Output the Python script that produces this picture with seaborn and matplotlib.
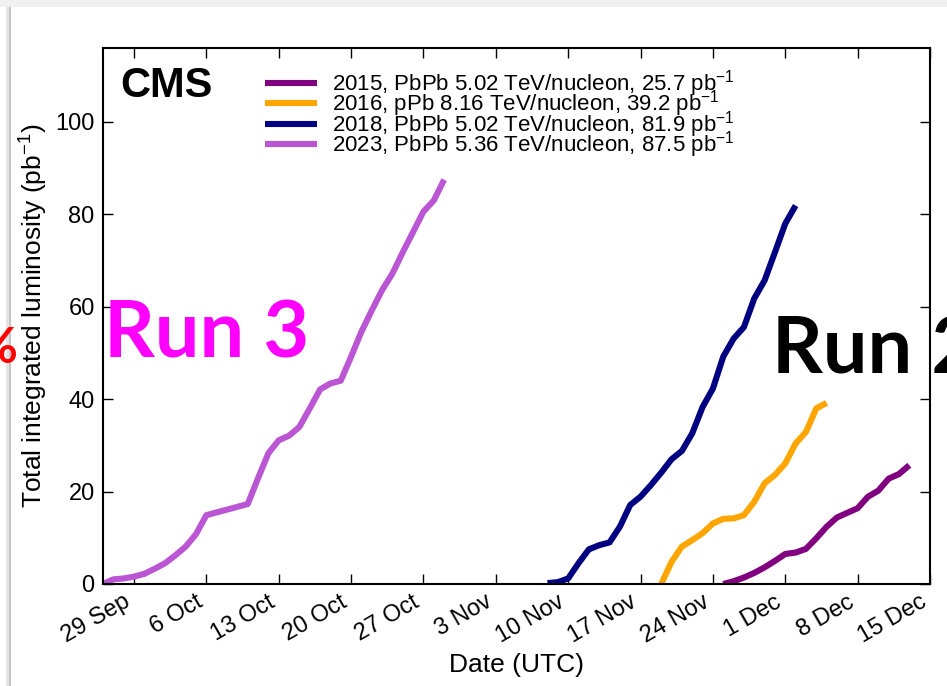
import matplotlib
matplotlib.use("Agg")
import matplotlib.pyplot as plt
from matplotlib.patches import Rectangle
import pandas as pd
import seaborn as sns

# ---- data: cumulative delivered luminosity per day (pb^-1) ----
AXIS_YEAR = 2023  # common calendar used to overlay the heavy-ion runs

labels = [
    "2015, PbPb 5.02 TeV/nucleon, 25.7 pb$^{-1}$",
    "2016, pPb 8.16 TeV/nucleon, 39.2 pb$^{-1}$",
    "2018, PbPb 5.02 TeV/nucleon, 81.9 pb$^{-1}$",
    "2023, PbPb 5.36 TeV/nucleon, 87.5 pb$^{-1}$",
]
colors = ["#800080", "#FFA500", "#000080", "#BA55D3"]
start_days = ["11-25", "11-19", "11-08", "09-26"]

lumi_2015 = [0.0, 0.6, 1.4, 2.4, 3.6, 5.0, 6.5, 6.8, 7.6, 9.9, 12.4, 14.4,
             15.4, 16.4, 18.9, 20.2, 22.8, 23.8, 25.7]
lumi_2016 = [0.0, 4.8, 8.1, 9.5, 11.0, 13.1, 14.1, 14.2, 14.9, 17.8, 21.8,
             23.6, 26.1, 30.4, 32.9, 38.0, 39.2]
lumi_2018 = [0.2, 0.4, 1.2, 4.5, 7.5, 8.4, 9.0, 12.4, 17.1, 18.9, 21.4, 24.1,
             27.0, 28.8, 32.6, 38.3, 42.3, 49.2, 53.1, 55.6, 61.8, 65.7,
             71.8, 78.0, 81.9]
lumi_2023 = [0.0, 1.0, 1.2, 1.6, 2.2, 3.3, 4.5, 6.2, 8.1, 10.8, 14.9, 15.5,
             16.1, 16.7, 17.3, 22.9, 28.3, 31.1, 32.1, 34.0, 38.0, 42.1,
             43.4, 44.0, 49.2, 54.6, 59.2, 63.6, 67.2, 71.8, 76.2, 80.6,
             83.0, 87.5]
series = [lumi_2015, lumi_2016, lumi_2018, lumi_2023]

tick_labels = ["29 Sep", "6 Oct", "13 Oct", "20 Oct", "27 Oct", "3 Nov",
               "10 Nov", "17 Nov", "24 Nov", "1 Dec", "8 Dec", "15 Dec"]
y_ticks = [0, 20, 40, 60, 80, 100]

# ---- style ----
sns.set_theme(style="ticks")
plt.rcParams["font.family"] = ["Liberation Sans", "DejaVu Sans"]
plt.rcParams["mathtext.fontset"] = "custom"
plt.rcParams["mathtext.rm"] = "Liberation Sans"
plt.rcParams["mathtext.it"] = "Liberation Sans:italic"
plt.rcParams["mathtext.bf"] = "Liberation Sans:bold"
for key in ["text.color", "axes.labelcolor", "xtick.color", "ytick.color",
            "axes.edgecolor"]:
    plt.rcParams[key] = "black"

W, H = 947, 686
fig = plt.figure(figsize=(W / 100, H / 100), dpi=100)
fig.patch.set_facecolor("white")


def fx(px):
    return px / W


def fy(py):
    return 1 - py / H


ax = fig.add_axes([fx(103), fy(584), (930 - 103) / W, (584 - 48) / H])
ax.set_facecolor("white")

for lab, col, start, vals in zip(labels, colors, start_days, series):
    dates = pd.date_range(f"{AXIS_YEAR}-{start}", periods=len(vals), freq="D")
    frame = pd.DataFrame({"date": dates, "lumi": vals})
    sns.lineplot(data=frame, x="date", y="lumi", color=col, linewidth=4.4,
                 label=lab, ax=ax, solid_capstyle="butt")

ax.set_xlim(pd.Timestamp(f"{AXIS_YEAR}-09-26"), pd.Timestamp(f"{AXIS_YEAR}-12-15"))
ax.set_ylim(0, 116)

tick_dates = pd.date_range(f"{AXIS_YEAR}-09-29", periods=len(tick_labels), freq="7D")
ax.set_xticks(tick_dates)
ax.set_xticklabels(tick_labels, rotation=30, ha="right")
ax.set_yticks(y_ticks)
ax.set_yticklabels([str(v) for v in y_ticks])

ax.tick_params(axis="both", which="major", direction="in", length=7, width=1,
               labelsize=17, top=True, right=True, color="black",
               labelcolor="black")
ax.tick_params(axis="y", pad=6)
ax.tick_params(axis="x", pad=5)
for sp in ax.spines.values():
    sp.set_linewidth(1.5)
    sp.set_color("black")
    sp.set_visible(True)

ax.set_xlabel("Date (UTC)", fontsize=19, labelpad=4)
ax.set_ylabel("Total integrated luminosity (pb$^{-1}$)", fontsize=19, labelpad=4)

leg = ax.legend(loc="upper left", bbox_to_anchor=(fx(265), fy(68)),
                bbox_transform=fig.transFigure, frameon=False, fontsize=16,
                handlelength=2.35, handletextpad=0.68, labelspacing=-0.47,
                borderpad=0, borderaxespad=0)

fig.text(fx(120), fy(97), "CMS", fontsize=30, fontweight="bold", va="baseline")

# slide annotations
run_font = ["Lato", "Open Sans", "DejaVu Sans"]
fig.text(fx(104), fy(357), "Run 3", color="#FF00FF", fontsize=57,
         fontweight="bold", family=run_font, va="baseline")
fig.text(fx(772), fy(373), "Run 2", color="black", fontsize=57,
         fontweight="bold", family=run_font, va="baseline")
fig.text(fx(17), fy(363), "%", color="#FF0000", fontsize=36,
         fontweight="bold", family=run_font, va="baseline", ha="right")

# slide frame shading
fig.add_artist(Rectangle((0, fy(7)), 1, 7 / H, transform=fig.transFigure,
                         facecolor="#f0f0f0", edgecolor="none", zorder=-1))
fig.add_artist(Rectangle((fx(6), 0), 3 / W, fy(7), transform=fig.transFigure,
                         facecolor="#e4e4e4", edgecolor="none", zorder=-1))
fig.add_artist(Rectangle((fx(9), 0), 2 / W, fy(7), transform=fig.transFigure,
                         facecolor="#c6c6c6", edgecolor="none", zorder=-1))

fig.savefig("out.png", dpi=100)
